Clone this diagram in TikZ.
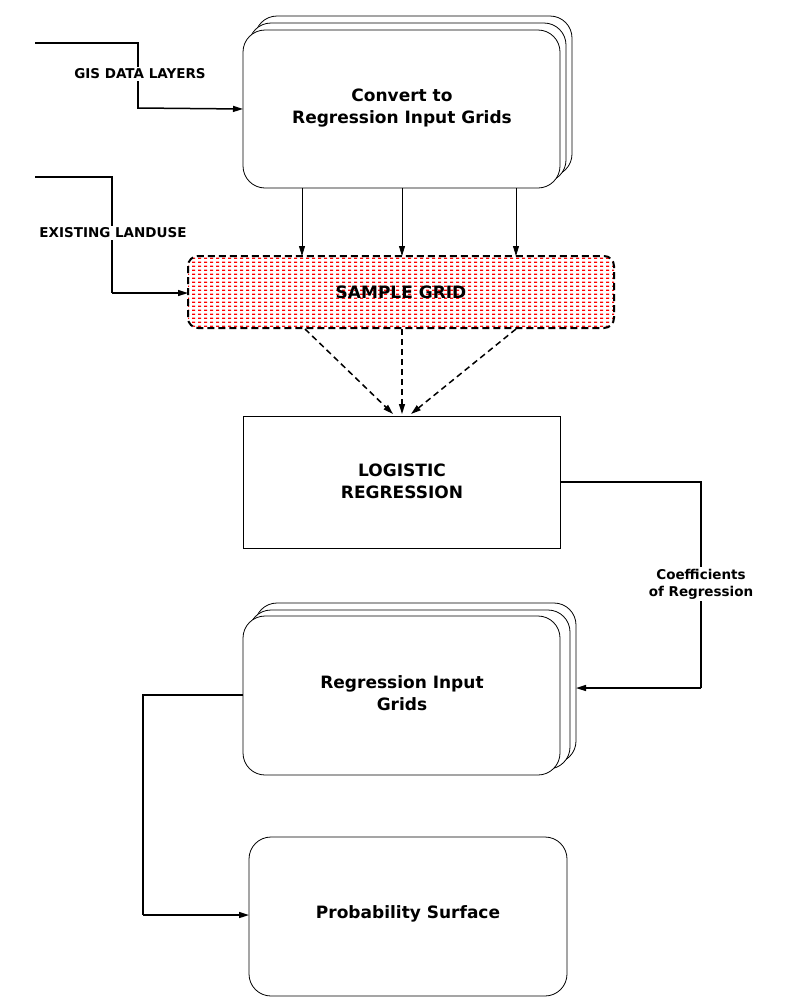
\documentclass[tikz,border=0pt]{standalone}
\usepackage{fontspec}
\setmainfont{DejaVu Sans}
\usetikzlibrary{arrows.meta,patterns}
\pgfdeclarepatternformonly{reddash}{\pgfpoint{0pt}{0pt}}{\pgfpoint{6pt}{4pt}}{\pgfpoint{6pt}{4pt}}{%
  \pgfpathrectangle{\pgfpoint{0pt}{0pt}}{\pgfpoint{3.5pt}{1.6pt}}\pgfusepath{fill}}
\begin{document}
\begin{tikzpicture}[x=1pt,y=-1pt,
  box/.style={draw,fill=white,line width=0.8pt,rounded corners=22pt},
  lbl/.style={font=\bfseries\fontsize{17}{22}\selectfont,align=center},
  sl/.style={font=\bfseries\fontsize{13.5}{17}\selectfont,fill=white,inner sep=2pt,align=center},
  ar/.style={-{Triangle[length=10pt,width=6pt]},line width=0.8pt},
  br/.style={line width=1.5pt}]
\useasboundingbox (0,0) rectangle (792,999);
% convert stack
\draw[box] (255,16) rectangle (572,176);
\draw[box] (249,23) rectangle (566,182);
\draw[box] (243,30) rectangle (560,188);
\node[lbl] (conv) at (402,108) {Convert to\\Regression Input Grids};
\coordinate (convL) at (243,109);
% sample grid
\draw[pattern=reddash,pattern color=red,draw=none,rounded corners=10pt] (188,256) rectangle (614,328);
\draw[dashed,line width=2pt,dash pattern=on 7pt off 4pt,rounded corners=10pt] (188,256) rectangle (614,328);
\node[font=\bfseries\fontsize{17}{22}\selectfont] (sg) at (401,292) {SAMPLE GRID};
% logistic
\draw[line width=0.8pt] (243,416) rectangle (560,548);
\node[lbl] (log) at (402,481) {LOGISTIC\\REGRESSION};
% regression input grids stack
\draw[box] (255,603) rectangle (576,763);
\draw[box] (249,610) rectangle (570,769);
\draw[box] (243,616) rectangle (560,775);
\node[lbl] (rig) at (402,693) {Regression Input\\Grids};
% probability
\draw[box] (249,837) rectangle (567,996);
\node[lbl] (prob) at (408,914) {Probability Surface};
% GIS
\coordinate (g0) at (35,43);
\draw[br] (g0) -| (138,109);
\draw[ar,line width=1.5pt] (138,108) -- (convL);
\node[sl] (gis) at (140,74) {GIS DATA LAYERS};
% existing landuse
\coordinate (e0) at (35,177);
\draw[br] (e0) -| (112,293);
\draw[ar,line width=1.5pt] (112,293) -- (188,293);
\node[sl] (el) at (113,233) {EXISTING LANDUSE};
% convert to sample
\foreach \x in {302,402,516} \draw[ar] (\x,188) -- (\x,256);
% dashed arrows
\draw[ar,dashed,line width=1.5pt,dash pattern=on 6pt off 4pt] (305,329) -- (393,414);
\draw[ar,dashed,line width=1.5pt,dash pattern=on 6pt off 4pt] (402,329) -- (402,414);
\draw[ar,dashed,line width=1.5pt,dash pattern=on 6pt off 4pt] (516,329) -- (411,414);
% coefficients
\draw[br] (560,482) -| (701,688);
\draw[ar,line width=1.5pt] (701,688) -- (576,688);
\node[sl] (coef) at (701,584) {Coefficients\\of Regression};
% to probability
\draw[br] (243,695) -| (143,915);
\draw[ar,line width=1.5pt] (143,915) -- (249,915);
\end{tikzpicture}
\end{document}
